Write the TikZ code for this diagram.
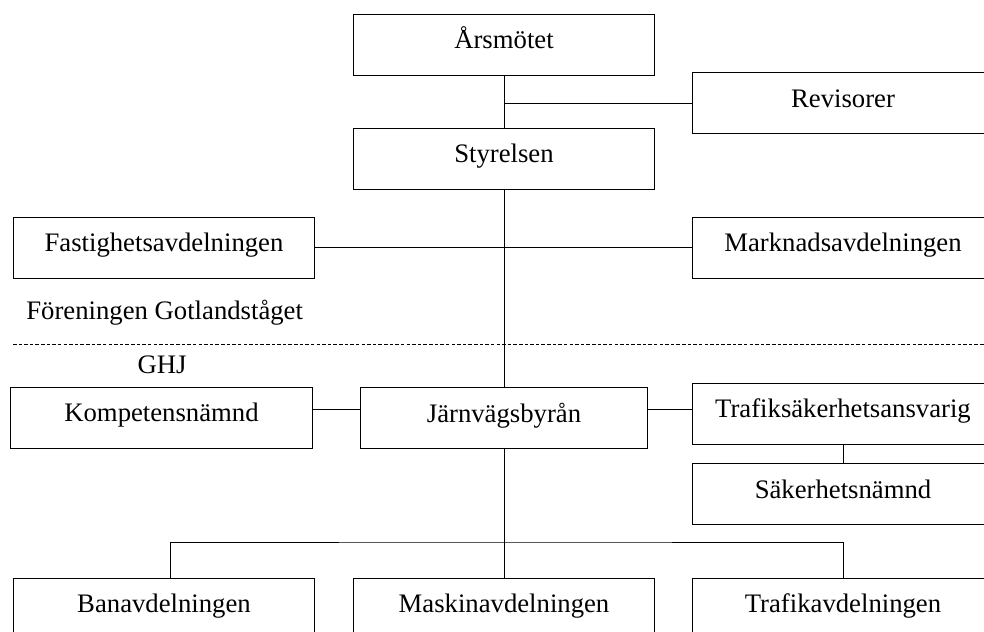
\documentclass[tikz,border=0pt]{standalone}
\usepackage{fontspec}
\setmainfont{Liberation Serif}
\begin{document}
\begin{tikzpicture}[
    x=0.02cm, y=-0.02cm,
    unit/.style={draw,line width=0.55pt,minimum width=6.04cm,inner sep=0pt,
      text height=0.69cm,text depth=0.53cm,font=\fontsize{15.2}{18}\selectfont},
    narrow/.style={unit,minimum width=5.76cm},
    lbl/.style={font=\fontsize{15.2}{18}\selectfont,inner sep=0pt},
    ed/.style={draw,-,line width=0.55pt},
    sep/.style={draw,line width=0.5pt,dash pattern=on 2pt off 1.2pt}
  ]
  \useasboundingbox (0,0) rectangle (984,632);
  \clip (0,0) rectangle (984,632);
  %% association
  \node[unit] (arsm) at (504,44.5) {Årsmötet};
  \node[unit] (revi) at (843,103) {Revisorer};
  \node[unit] (styr) at (504,158.5) {Styrelsen};
  \node[unit] (fast) at (164,247.5) {Fastighetsavdelningen};
  \node[unit] (mark) at (843,247.5) {Marknadsavdelningen};
  \node[lbl,anchor=base west] (fgt) at (26,319) {Föreningen Gotlandståget};
  %% border between the two organisations
  \draw[sep] (13,344) -- (984,344);
  \node[lbl,anchor=base] (ghj) at (162,373) {GHJ};
  %% railway
  \node[unit]   (komp) at (161.5,417.5) {Kompetensnämnd};
  \node[narrow] (jvb)  at (504,418) {Järnvägsbyrån};
  \node[unit]   (trs)  at (843,413.5) {Trafiksäkerhetsansvarig};
  \node[unit]   (sak)  at (843,494) {Säkerhetsnämnd};
  \node[unit]   (bana) at (164,608.5) {Banavdelningen};
  \node[unit]   (mask) at (504,608.5) {Maskinavdelningen};
  \node[unit]   (traf) at (843,608.5) {Trafikavdelningen};
  %% connectors
  \foreach \a/\b in {arsm/styr,styr/jvb,jvb/mask,fast/mark,trs/sak}
    \draw[ed] (\a) -- (\b);
  \coordinate (rv) at (arsm.south |- revi.west);
  \draw[ed] (rv) -- (revi.west);
  \coordinate (kj) at ([yshift=-0.44cm]jvb.north west);
  \draw[ed] (kj) -- (kj -| komp.east);
  \coordinate (jt) at ([yshift=-0.44cm]jvb.north east);
  \draw[ed] (jt) -- (jt -| trs.west);
  \coordinate (fork) at (504,542);
  \draw[ed] ([xshift=0.12cm]bana.north) |- (fork) -| (traf.north);
\end{tikzpicture}
\end{document}
